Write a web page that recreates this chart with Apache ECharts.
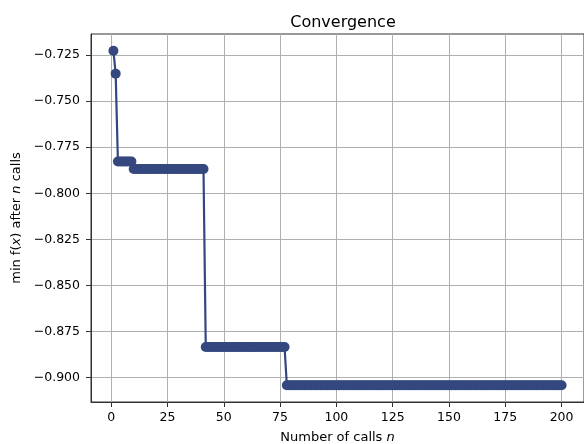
<!DOCTYPE html>
<html>
<head>
<meta charset="utf-8">
<script src="https://cdn.jsdelivr.net/npm/echarts@6/dist/echarts.min.js"></script>
<style>
html,body{margin:0;padding:0;background:#fff;}
#chart{width:584px;height:444px;}
</style>
</head>
<body>
<div id="chart"></div>
<script>
// Minimum f(x) found after n calls (n = 1..200)
const minValues = [
  -0.7227,-0.7351,-0.7828,-0.7828,-0.7828,-0.7828,-0.7828,-0.7828,-0.7828,-0.7868,
  -0.7868,-0.7868,-0.7868,-0.7868,-0.7868,-0.7868,-0.7868,-0.7868,-0.7868,-0.7868,
  -0.7868,-0.7868,-0.7868,-0.7868,-0.7868,-0.7868,-0.7868,-0.7868,-0.7868,-0.7868,
  -0.7868,-0.7868,-0.7868,-0.7868,-0.7868,-0.7868,-0.7868,-0.7868,-0.7868,-0.7868,
  -0.7868,-0.8834,-0.8834,-0.8834,-0.8834,-0.8834,-0.8834,-0.8834,-0.8834,-0.8834,
  -0.8834,-0.8834,-0.8834,-0.8834,-0.8834,-0.8834,-0.8834,-0.8834,-0.8834,-0.8834,
  -0.8834,-0.8834,-0.8834,-0.8834,-0.8834,-0.8834,-0.8834,-0.8834,-0.8834,-0.8834,
  -0.8834,-0.8834,-0.8834,-0.8834,-0.8834,-0.8834,-0.8834,-0.9041,-0.9041,-0.9041,
  -0.9041,-0.9041,-0.9041,-0.9041,-0.9041,-0.9041,-0.9041,-0.9041,-0.9041,-0.9041,
  -0.9041,-0.9041,-0.9041,-0.9041,-0.9041,-0.9041,-0.9041,-0.9041,-0.9041,-0.9041,
  -0.9041,-0.9041,-0.9041,-0.9041,-0.9041,-0.9041,-0.9041,-0.9041,-0.9041,-0.9041,
  -0.9041,-0.9041,-0.9041,-0.9041,-0.9041,-0.9041,-0.9041,-0.9041,-0.9041,-0.9041,
  -0.9041,-0.9041,-0.9041,-0.9041,-0.9041,-0.9041,-0.9041,-0.9041,-0.9041,-0.9041,
  -0.9041,-0.9041,-0.9041,-0.9041,-0.9041,-0.9041,-0.9041,-0.9041,-0.9041,-0.9041,
  -0.9041,-0.9041,-0.9041,-0.9041,-0.9041,-0.9041,-0.9041,-0.9041,-0.9041,-0.9041,
  -0.9041,-0.9041,-0.9041,-0.9041,-0.9041,-0.9041,-0.9041,-0.9041,-0.9041,-0.9041,
  -0.9041,-0.9041,-0.9041,-0.9041,-0.9041,-0.9041,-0.9041,-0.9041,-0.9041,-0.9041,
  -0.9041,-0.9041,-0.9041,-0.9041,-0.9041,-0.9041,-0.9041,-0.9041,-0.9041,-0.9041,
  -0.9041,-0.9041,-0.9041,-0.9041,-0.9041,-0.9041,-0.9041,-0.9041,-0.9041,-0.9041,
  -0.9041,-0.9041,-0.9041,-0.9041,-0.9041,-0.9041,-0.9041,-0.9041,-0.9041,-0.9041
];
const xTicks = [0, 25, 50, 75, 100, 125, 150, 175, 200];
const yTicks = [-0.900, -0.875, -0.850, -0.825, -0.800, -0.775, -0.750, -0.725];

const points = minValues.map((v, i) => [i + 1, v]);

const FONT = 'DejaVu Sans';
const chart = echarts.init(document.getElementById('chart'), null, {renderer: 'canvas'});
const fmtY = v => (v < 0 ? '\u2212' : '') + Math.abs(v).toFixed(3);

chart.setOption({
  animation: false,
  backgroundColor: '#ffffff',
  title: {
    text: 'Convergence',
    left: 338, top: 10, textAlign: 'center',
    textStyle: {fontFamily: FONT, fontSize: 16, fontWeight: 'normal', color: '#000'}
  },
  grid: {
    left: 91, right: 0, top: 34, bottom: 42,
    outerBoundsMode: 'none', containLabel: false,
    show: true, borderColor: '#333', borderWidth: 1, backgroundColor: 'transparent'
  },
  xAxis: {
    type: 'value', min: -8.95, max: 209.95,
    name: 'Number of calls {i|n}',
    nameLocation: 'middle', nameGap: 29,
    nameTextStyle: {fontFamily: FONT, fontSize: 13, color: '#000',
      rich: {i: {fontFamily: FONT, fontStyle: 'italic', fontSize: 13, color: '#000'}}},
    axisLine: {show: true, onZero: false, lineStyle: {color: '#333', width: 1}},
    axisTick: {show: true, customValues: xTicks, length: 5, lineStyle: {color: '#333'}},
    axisLabel: {customValues: xTicks, fontFamily: FONT, fontSize: 12.5, color: '#000', margin: 9},
    splitLine: {show: true, lineStyle: {color: '#b0b0b0', width: 1}}
  },
  yAxis: {
    type: 'value', min: -0.9132, max: -0.7136,
    name: 'min f({i|x}) after {i|n} calls',
    nameLocation: 'middle', nameGap: 66, nameRotate: 90,
    nameTextStyle: {fontFamily: FONT, fontSize: 13, color: '#000',
      rich: {i: {fontFamily: FONT, fontStyle: 'italic', fontSize: 13, color: '#000'}}},
    axisLine: {show: true, onZero: false, lineStyle: {color: '#333', width: 1}},
    axisTick: {show: true, customValues: yTicks, length: 5, lineStyle: {color: '#333'}},
    axisLabel: {customValues: yTicks, formatter: fmtY, fontFamily: FONT, fontSize: 12.5, color: '#000', margin: 11},
    splitLine: {show: true, lineStyle: {color: '#b0b0b0', width: 1}}
  },
  series: [{
    type: 'line',
    data: points,
    symbol: 'circle', symbolSize: 10,
    showAllSymbol: true,
    lineStyle: {color: '#34487f', width: 2.2},
    itemStyle: {color: '#34487f'},
    z: 3
  }]
});
</script>
</body>
</html>
